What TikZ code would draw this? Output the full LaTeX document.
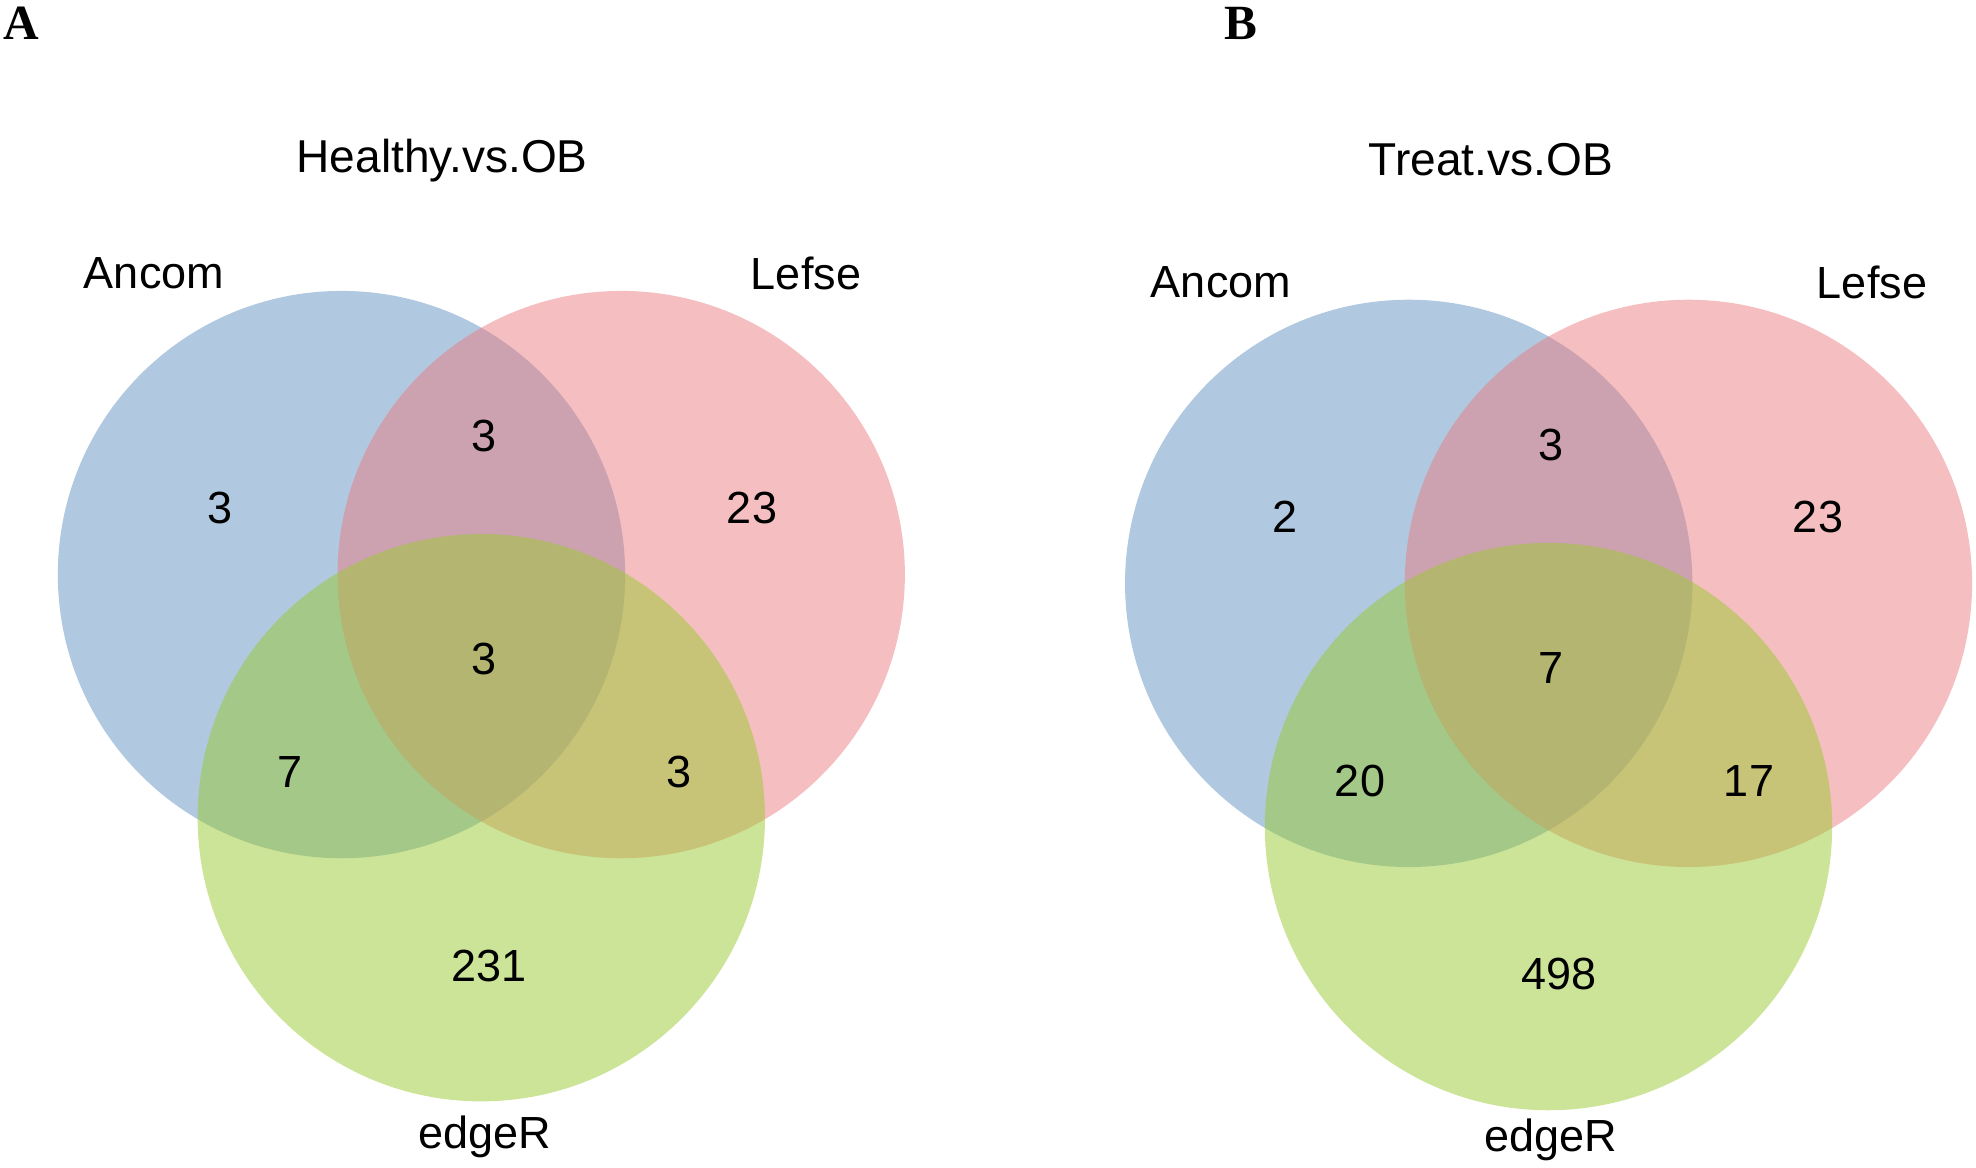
\documentclass[tikz,border=0pt]{standalone}
\usepackage{fontspec}
\setmainfont{Liberation Sans}
\newfontfamily\panelfont{Liberation Serif}
\definecolor{ancomc}{RGB}{97,145,193}
\definecolor{lefsec}{RGB}{235,125,129}
\definecolor{edgerc}{RGB}{153,201,49}
\tikzset{
  set/.style={circle, minimum size=5.67cm, inner sep=0pt, fill opacity=0.5},
  num/.style={font=\fontsize{12.8}{15}\selectfont, inner sep=0pt},
  lab/.style={font=\fontsize{12.8}{15}\selectfont, inner sep=0pt},
  ttl/.style={font=\fontsize{13.1}{15}\selectfont, inner sep=0pt},
  panel/.style={font=\fontsize{14}{16}\selectfont\panelfont\bfseries, inner sep=0pt}
}
\begin{document}
\begin{tikzpicture}[x=0.01cm, y=-0.01cm]
  \useasboundingbox (0,0) rectangle (1976,1168);
  % A: Healthy vs OB
  \node[panel] (pA) at (21,23) {A};
  \node[ttl, anchor=west] (tA) at (296,161) {Healthy.vs.OB};
  \node[set, fill=ancomc] (ancomA) at (341.5,574.6) {};
  \node[set, fill=lefsec] (lefseA) at (621.2,574.6) {};
  \node[set, fill=edgerc] (edgerA) at (481.3,817.7) {};
  \node[lab] (lancomA) at (154,273) {Ancom};
  \node[lab] (llefseA) at (806,273) {Lefse};
  \node[lab] (ledgerA) at (485,1137) {edgeR};
  \node[num] at (220.5,508) {3};
  \node[num] at (484,436) {3};
  \node[num] at (752,508) {23};
  \node[num] at (484,659) {3};
  \node[num] at (290,772) {7};
  \node[num] at (679,772) {3};
  \node[num] at (489,966) {231};
  % B: Treat vs OB
  \node[panel] (pB) at (1241,23) {B};
  \node[ttl, anchor=west] (tB) at (1368,160) {Treat.vs.OB};
  \node[set, fill=ancomc] (ancomB) at (1408.7,583.4) {};
  \node[set, fill=lefsec] (lefseB) at (1688.4,583.4) {};
  \node[set, fill=edgerc] (edgerB) at (1548.5,826.6) {};
  \node[lab] (lancomB) at (1221,282) {Ancom};
  \node[lab] (llefseB) at (1872,282) {Lefse};
  \node[lab] (ledgerB) at (1551,1140) {edgeR};
  \node[num] at (1285,517) {2};
  \node[num] at (1551,445) {3};
  \node[num] at (1818,517) {23};
  \node[num] at (1551,668) {7};
  \node[num] at (1360,781) {20};
  \node[num] at (1749,781) {17};
  \node[num] at (1559,974) {498};
\end{tikzpicture}
\end{document}
